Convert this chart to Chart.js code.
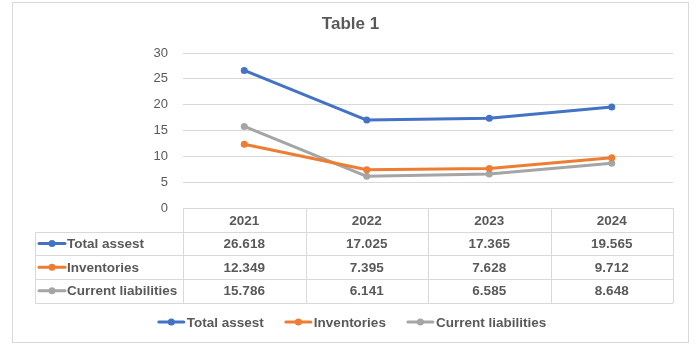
<!DOCTYPE html>
<html>
<head>
<meta charset="utf-8">
<script src="https://cdn.jsdelivr.net/npm/chart.js@4/dist/chart.umd.min.js"></script>
<style>
  html, body { margin: 0; padding: 0; background: #ffffff; }
  #wrap { width: 699px; height: 345px; position: relative; }
</style>
</head>
<body>
<div id="wrap"><canvas id="c" width="699" height="345"></canvas></div>
<script>
// ---- data ----
const chartTitle = 'Table 1';
const categories = ['2021', '2022', '2023', '2024'];
const seriesNames = ['Total assest', 'Inventories', 'Current liabilities'];
const totalAssets = [26.618, 17.025, 17.365, 19.565];
const inventories = [12.349, 7.395, 7.628, 9.712];
const currentLiabilities = [15.786, 6.141, 6.585, 8.648];
const yMin = 0, yMax = 30, yStep = 5;

const seriesColors = ['#4472C4', '#ED7D31', '#A5A5A5'];
const seriesValues = [totalAssets, inventories, currentLiabilities];
const textColor = '#595959';
const gridColor = '#d9d9d9';
const FONT = '"Liberation Sans", Arial, sans-serif';

const frame = { l: 12, t: 2, r: 688, b: 342 };
const rowH = 23.65;
const tableLeft = 35;
const legendY = 322;
const legendCenter = 352;
const titleX = 350.5, titleY = 24;

function drawMarkerLine(ctx, x1, x2, y, color) {
  ctx.strokeStyle = color;
  ctx.lineWidth = 3;
  ctx.lineCap = 'round';
  ctx.beginPath(); ctx.moveTo(x1, y); ctx.lineTo(x2, y); ctx.stroke();
  ctx.fillStyle = color;
  ctx.beginPath(); ctx.arc((x1 + x2) / 2, y, 3.5, 0, Math.PI * 2); ctx.fill();
}

const framePlugin = {
  id: 'frame',
  beforeDraw(chart) {
    const ctx = chart.ctx;
    ctx.save();
    ctx.fillStyle = '#ffffff';
    ctx.fillRect(0, 0, chart.width, chart.height);
    ctx.strokeStyle = gridColor;
    ctx.lineWidth = 1;
    ctx.strokeRect(frame.l + 0.5, frame.t + 0.5, frame.r - frame.l, frame.b - frame.t);
    ctx.font = 'bold 17px ' + FONT;
    ctx.fillStyle = textColor;
    ctx.textAlign = 'center';
    ctx.textBaseline = 'middle';
    ctx.fillText(chartTitle, titleX, titleY);
    ctx.restore();
  }
};

const tablePlugin = {
  id: 'dataTable',
  afterDraw(chart) {
    const { ctx, chartArea } = chart;
    const xs = chart.scales.x;
    const n = categories.length;
    const colW = (chartArea.right - chartArea.left) / n;
    const top = chartArea.bottom;
    const rows = seriesNames.length + 1;
    ctx.save();
    ctx.strokeStyle = gridColor;
    ctx.lineWidth = 1;
    ctx.lineCap = 'butt';
    for (let r = 1; r <= rows; r++) {
      const y = Math.round(top + r * rowH) + 0.5;
      ctx.beginPath(); ctx.moveTo(tableLeft + 0.5, y); ctx.lineTo(chartArea.right, y); ctx.stroke();
    }
    for (let c = 0; c <= n; c++) {
      const x = Math.round(chartArea.left + c * colW) + 0.5;
      ctx.beginPath(); ctx.moveTo(x, top); ctx.lineTo(x, Math.round(top + rows * rowH) + 0.5); ctx.stroke();
    }
    const lx = tableLeft + 0.5;
    ctx.beginPath(); ctx.moveTo(lx, Math.round(top + rowH) + 0.5); ctx.lineTo(lx, Math.round(top + rows * rowH) + 0.5); ctx.stroke();

    ctx.font = 'bold 13.5px ' + FONT;
    ctx.fillStyle = textColor;
    ctx.textBaseline = 'middle';
    ctx.textAlign = 'center';
    categories.forEach((cat, i) => {
      ctx.fillText(cat, xs.getPixelForValue(i), top + rowH / 2 + 1);
    });
    seriesNames.forEach((name, s) => {
      const yc = top + (s + 1) * rowH + rowH / 2 + 1;
      ctx.textAlign = 'center';
      ctx.fillStyle = textColor;
      seriesValues[s].forEach((v, i) => {
        ctx.fillText(v.toFixed(3), xs.getPixelForValue(i), yc);
      });
      drawMarkerLine(ctx, tableLeft + 4, tableLeft + 30, yc - 1, seriesColors[s]);
      ctx.fillStyle = textColor;
      ctx.textAlign = 'left';
      ctx.fillText(name, tableLeft + 32, yc);
    });

    const markW = 27, gapMT = 2, gapItems = 21;
    const widths = seriesNames.map(nm => markW + gapMT + ctx.measureText(nm).width);
    const total = widths.reduce((a, b) => a + b, 0) + gapItems * (widths.length - 1);
    let x = legendCenter - total / 2;
    seriesNames.forEach((nm, s) => {
      drawMarkerLine(ctx, x + 1, x + markW - 1, legendY, seriesColors[s]);
      ctx.fillStyle = textColor;
      ctx.textAlign = 'left';
      ctx.fillText(nm, x + markW + gapMT, legendY + 1);
      x += widths[s] + gapItems;
    });
    ctx.restore();
  }
};

const ctx = document.getElementById('c').getContext('2d');
new Chart(ctx, {
  type: 'line',
  data: {
    labels: categories,
    datasets: seriesNames.map((nm, s) => ({
      label: nm,
      data: seriesValues[s],
      borderColor: seriesColors[s],
      backgroundColor: seriesColors[s],
      pointBackgroundColor: seriesColors[s],
      pointBorderColor: seriesColors[s],
      borderWidth: 3,
      pointRadius: 3.5,
      pointBorderWidth: 0,
      tension: 0,
      borderCapStyle: 'round',
      borderJoinStyle: 'round',
      fill: false,
      clip: false
    }))
  },
  options: {
    responsive: false,
    animation: false,
    devicePixelRatio: 1,
    layout: { padding: { left: 12, right: 26, top: 53, bottom: 137 } },
    plugins: {
      legend: { display: false },
      tooltip: { enabled: false },
      title: { display: false }
    },
    scales: {
      x: {
        type: 'category',
        offset: true,
        display: false
      },
      y: {
        min: yMin,
        max: yMax,
        ticks: {
          stepSize: yStep,
          color: textColor,
          padding: 15,
          font: { family: FONT, size: 13 }
        },
        grid: { color: gridColor, lineWidth: 1, drawTicks: false },
        border: { display: false },
        afterFit(scale) { scale.width = 171; }
      }
    }
  },
  plugins: [framePlugin, tablePlugin]
});
</script>
</body>
</html>
